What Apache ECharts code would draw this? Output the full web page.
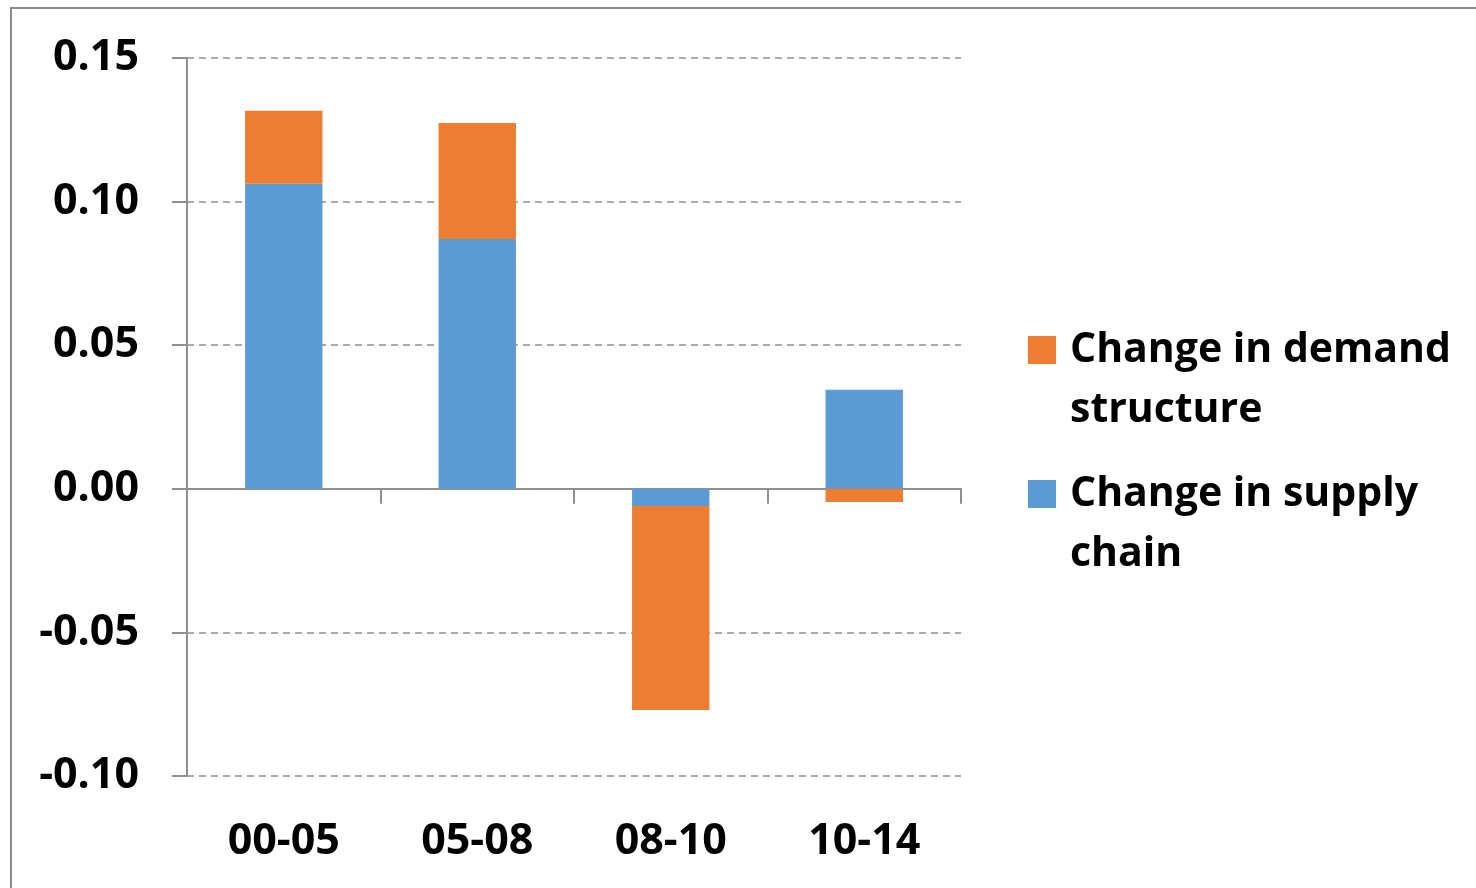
<!DOCTYPE html>
<html>
<head>
<meta charset="utf-8">
<script src="https://cdn.jsdelivr.net/npm/echarts@6/dist/echarts.min.js"></script>
<style>
html,body{margin:0;padding:0;background:#fff;}
#chart{width:1476px;height:888px;}
</style>
</head>
<body>
<div id="chart"></div>
<script>
const categories = ['00-05', '05-08', '08-10', '10-14'];
const supplyChain = [0.1062, 0.0870, -0.0060, 0.0345];
const demandStructure = [0.0254, 0.0404, -0.0710, -0.0046];
const seriesNames = ['Change in demand\nstructure', 'Change in supply\nchain'];
const yTicks = { min: -0.10, max: 0.15, interval: 0.05 };

const FONT = 'Open Sans';
const chart = echarts.init(document.getElementById('chart'), null, { renderer: 'canvas' });
const axisGray = '#8f8f8f';

chart.setOption({
  animation: false,
  backgroundColor: '#ffffff',
  textStyle: { fontFamily: FONT },
  graphic: [{
    type: 'rect',
    shape: { x: 11, y: 8, width: 1600, height: 1000 },
    style: { fill: 'none', stroke: '#8a8a8a', lineWidth: 2 },
    silent: true, z: -10
  }],
  grid: { left: 187, right: 515, top: 58, bottom: 112, containLabel: false },
  legend: {
    orient: 'vertical',
    left: 1023,
    top: 255,
    itemWidth: 28,
    itemHeight: 28,
    itemGap: -36,
    icon: 'rect',
    data: [seriesNames[0], seriesNames[1]],
    formatter: name => '\n' + name,
    textStyle: {
      fontFamily: FONT, fontWeight: 'bold', fontSize: 41, color: '#000',
      lineHeight: 60, padding: [0, 0, 0, 9]
    }
  },
  xAxis: [{
    type: 'category',
    data: categories,
    position: 'bottom',
    axisLine: { show: false, onZero: false },
    axisTick: { show: false },
    axisLabel: { fontFamily: FONT, fontWeight: 'bold', fontSize: 43, color: '#000', margin: 44 },
    splitLine: { show: false }
  }, {
    type: 'category',
    data: categories,
    position: 'bottom',
    axisLine: { show: true, onZero: true, lineStyle: { color: axisGray, width: 2 } },
    axisTick: { show: true, length: 15, inside: false, lineStyle: { color: axisGray, width: 2 } },
    axisLabel: { show: false }
  }],
  yAxis: {
    type: 'value',
    min: yTicks.min,
    max: yTicks.max,
    interval: yTicks.interval,
    axisLine: { show: true, lineStyle: { color: axisGray, width: 2 } },
    axisTick: { show: true, length: 15, lineStyle: { color: axisGray, width: 2 } },
    axisLabel: {
      fontFamily: FONT, fontWeight: 'bold', fontSize: 43, color: '#000', margin: 48,
      padding: [6, 0, 0, 0],
      formatter: v => v.toFixed(2)
    },
    splitLine: { show: true, lineStyle: { color: axisGray, width: 1.5, type: [7, 5] } }
  },
  series: [{
    name: seriesNames[1],
    type: 'bar',
    stack: 'total',
    data: supplyChain,
    barWidth: '40%',
    itemStyle: { color: '#5B9BD5' }
  }, {
    name: seriesNames[0],
    type: 'bar',
    stack: 'total',
    data: demandStructure,
    barWidth: '40%',
    itemStyle: { color: '#ED7D31' }
  }]
});
</script>
</body>
</html>
